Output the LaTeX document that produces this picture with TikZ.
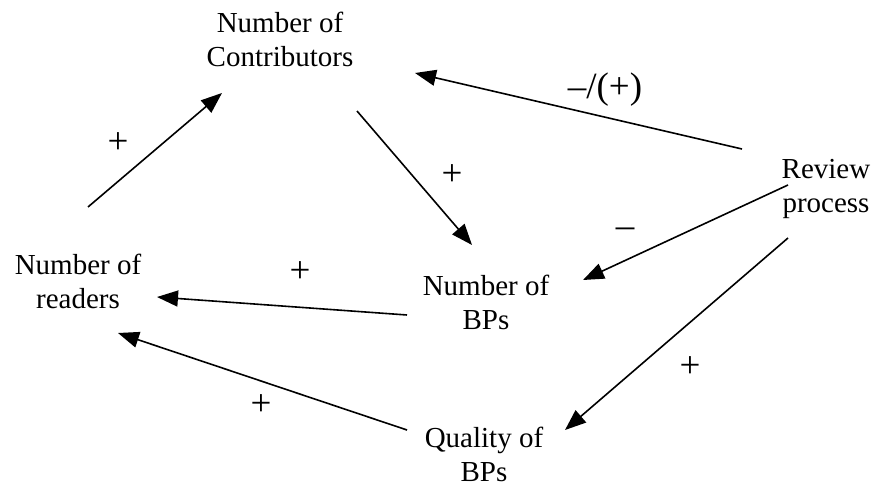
\documentclass[tikz,border=0pt]{standalone}
\usepackage{fontspec}
\setmainfont{Liberation Serif}
\usetikzlibrary{arrows.meta,calc}
\begin{document}
\begin{tikzpicture}[x=1pt,y=-1pt,
  lbl/.style={font=\fontsize{29}{34}\selectfont, align=center, inner sep=0pt},
  sgn/.style={font=\fontsize{37}{40}\selectfont, inner sep=0pt},
  conn/.style={line width=1.6pt, -{Triangle[length=21pt,width=16pt]}}]
\useasboundingbox (0,0) rectangle (873,486);
\node[lbl] (con) at (280,39) {Number of\\Contributors};
\node[lbl] (rev) at (826,189) {Review\\process};
\node[lbl] (bps) at (486,302) {Number of\\BPs};
\node[lbl] (rea) at (78,281) {Number of\\readers};
\node[lbl] (qua) at (484,454) {Quality of\\BPs};
\draw[conn] ($(rea)+(10,-74)$) -- ($(con)+(-58,54)$);
\draw[conn] ($(con)+(77,72)$) -- ($(bps)+(-14,-57)$);
\draw[conn] ($(rev)+(-84,-40)$) -- ($(con)+(135,34)$);
\draw[conn] ($(rev)+(-38,-4)$) -- ($(bps)+(97,-22)$);
\draw[conn] ($(rev)+(-38,49)$) -- ($(qua)+(81,-24)$);
\draw[conn] ($(bps)+(-79,13)$) -- ($(rea)+(79,16)$);
\draw[conn] ($(qua)+(-77,-24)$) -- ($(rea)+(40,52)$);
\node[sgn] (s1) at (118,143) {+};
\node[sgn] (s2) at (452,175) {+};
\node[sgn] (s3) at (605,90) {–/(+)};
\node[sgn] (s4) at (625,233) {–};
\node[sgn] (s5) at (300,272) {+};
\node[sgn] (s6) at (690,367) {+};
\node[sgn] (s7) at (261,405) {+};
\end{tikzpicture}
\end{document}
